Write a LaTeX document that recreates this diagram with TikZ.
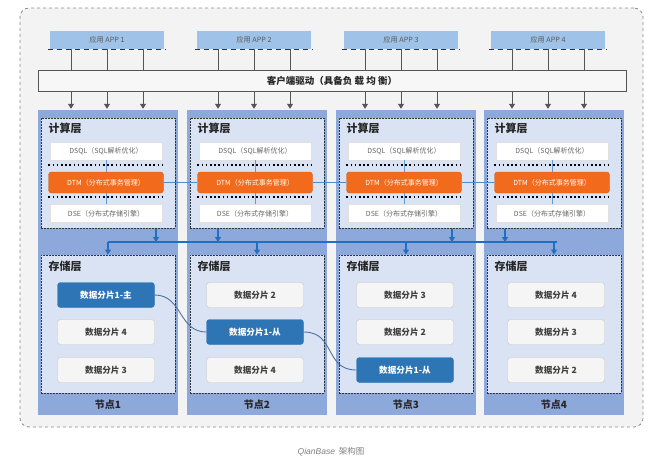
\documentclass[tikz,border=0pt]{standalone}
\usepackage{fontspec}
\setmainfont{Noto Sans CJK SC}
\newfontfamily\capfont{Liberation Sans}
\usetikzlibrary{arrows.meta,calc,shadows}
\definecolor{bgc}{HTML}{F3F3F3}
\definecolor{framec}{HTML}{8C8C8C}
\definecolor{appc}{HTML}{9FC3E8}
\definecolor{colc}{HTML}{8DA8DA}
\definecolor{innerc}{HTML}{DAE3F3}
\definecolor{dtmc}{HTML}{F26B1D}
\definecolor{shardb}{HTML}{2E75B6}
\definecolor{busc}{HTML}{1F70C1}
\definecolor{curvec}{HTML}{4F72A6}
\definecolor{arrc}{HTML}{555555}
\begin{document}
\begin{tikzpicture}[x=1pt,y=-1pt,
  outerframe/.style={draw=framec, dashed, line width=0.8pt, fill=bgc, rounded corners=9pt, inner sep=0pt},
  appbox/.style={fill=appc, minimum width=114pt, minimum height=18pt, inner sep=0pt, text=black!65, font=\fontsize{7.2}{8}\selectfont},
  appdash/.style={draw=black!80, line width=1pt, dash pattern=on 5pt off 4pt},
  driver/.style={draw=arrc, fill=white!97!black, line width=1pt, minimum width=588pt, minimum height=21pt, inner sep=0pt, font=\fontsize{9.5}{10}\selectfont\bfseries, text=black!85},
  gline/.style={draw=arrc, line width=1pt},
  garr/.style={draw=arrc, line width=1pt, -{Triangle[width=6pt,length=5pt]}},
  column/.style={fill=colc, minimum width=140pt, minimum height=305pt, inner sep=0pt},
  layerbox/.style={draw=black!80, fill=innerc, line width=1pt, dash pattern=on 2pt off 1pt, minimum width=134pt, inner sep=0pt},
  ltitle/.style={anchor=north west, inner sep=0pt, font=\fontsize{11}{12}\selectfont\bfseries, text=black!85},
  wbox/.style={fill=white, draw=black!12, minimum width=112pt, minimum height=18pt, inner sep=0pt, text=black!60, font=\fontsize{7}{8}\selectfont, drop shadow={shadow xshift=0.6pt, shadow yshift=-0.8pt, opacity=0.25}},
  dtmbox/.style={fill=dtmc, draw=dtmc!85!black, rounded corners=3pt, minimum width=115pt, minimum height=21pt, inner sep=0pt, text=white, font=\fontsize{7}{8}\selectfont},
  dotline/.style={draw=black, line width=1.6pt, dash pattern=on 1.6pt off 2.6pt},
  vfaint/.style={draw=busc!70, line width=0.8pt},
  hline/.style={draw=busc!80, line width=0.8pt},
  shard/.style={fill=white!96!black, draw=black!22, rounded corners=3pt, minimum width=97pt, minimum height=25pt, inner sep=0pt, text=black!75, font=\fontsize{8.6}{9}\selectfont\bfseries},
  shardm/.style={shard, fill=shardb, draw=shardb, text=white},
  barr/.style={draw=busc, line width=1.1pt, -{Triangle[width=6pt,length=5pt]}},
  bline/.style={draw=busc, line width=1.1pt},
  curvel/.style={draw=curvec, line width=0.9pt},
  nodelabel/.style={inner sep=0pt, font=\fontsize{10}{11}\selectfont\bfseries, text=black!85},
]
\useasboundingbox (0,0) rectangle (666,466);
\fill[white] (0,0) rectangle (666,466);
\node[outerframe, minimum width=623pt, minimum height=419pt] (frame) at (331.5,217.5) {};

% apps
\node[appbox] (app1) at (107,40) {应用 APP 1};
\node[appbox] (app2) at (254,40) {应用 APP 2};
\node[appbox] (app3) at (401,40) {应用 APP 3};
\node[appbox] (app4) at (548,40) {应用 APP 4};
\foreach \i in {1,2,3,4}{
  \draw[appdash] ([xshift=-2pt]app\i.south west) -- ([xshift=1pt]app\i.south east);
}

% driver
\node[driver] (drv) at (332,80.5) {客户端驱动（具备负 载 均 衡）};

% columns
\foreach \i/\cx in {1/108,2/257,3/406,4/554}{
  \node[column] (col\i) at (\cx,262.5) {};
  \node[layerbox, minimum height=110pt] (cmp\i) at (\cx,173) {};
  \node[ltitle] (ct\i) at ([shift={(8,5)}]cmp\i.north west) {计算层};
  \node[layerbox, minimum height=138pt] (sto\i) at (\cx,324) {};
  \node[ltitle] (st\i) at ([shift={(8,6)}]sto\i.north west) {存储层};
  \node[nodelabel] (nl\i) at (\cx,405) {节点\i};
}
\foreach \i in {1,2,3,4}{
  \foreach \o in {-36,0,36}{
    \draw[gline] ([xshift=\o pt]app\i.south) -- ([xshift=\o pt]app\i.south |- drv.north);
    \draw[garr] ([xshift=\o pt]app\i.south |- drv.south) -- ([xshift=\o pt, yshift=1pt]app\i.south |- col\i.north);
  }
}

% compute internals
\foreach \i/\cx in {1/108,2/257,3/406,4/554}{
  \node[wbox] (dsql\i) at (\cx-2,151) {DSQL（SQL解析优化）};
  \node[dtmbox] (dtm\i) at (\cx-2,182.5) {DTM（分布式事务管理）};
  \node[wbox] (dse\i) at (\cx-2,213.5) {DSE（分布式存储引擎）};
  \draw[dotline] ([shift={(0,-7)}]dtm\i.north west) -- ([shift={(0,-7)}]dtm\i.north east);
  \draw[dotline] ([shift={(0,4)}]dtm\i.south west) -- ([shift={(0,4)}]dtm\i.south east);
  \draw[vfaint] (dsql\i.south) -- (dtm\i.north);
  \draw[vfaint] (dtm\i.south) -- (dse\i.north);
}
\draw[hline] (dtm1.east) -- (dtm2.west);
\draw[hline] (dtm2.east) -- (dtm3.west);
\draw[hline] (dtm3.east) -- (dtm4.west);

% bus
\coordinate (bus) at (0,242);
\draw[bline] (sto1.north |- bus) -- ([xshift=3pt]sto4.north |- bus);
\draw[barr] ([xshift=48pt]cmp1.south) -- ([xshift=48pt]cmp1.south |- bus);
\draw[barr] ([xshift=-39pt]cmp2.south) -- ([xshift=-39pt]cmp2.south |- bus);
\draw[barr] ([xshift=46pt]cmp3.south) -- ([xshift=46pt]cmp3.south |- bus);
\draw[barr] ([xshift=-49pt]cmp4.south) -- ([xshift=-49pt]cmp4.south |- bus);
\foreach \i in {1,2,3,4}{
  \draw[barr] (sto\i.north |- bus) -- (sto\i.north);
}

% shards
\node[shardm] (s11) at (106,295) {数据分片1-主};
\node[shard] (s12) at (106,332) {数据分片 4};
\node[shard] (s13) at (106,370) {数据分片 3};
\node[shard] (s21) at (255,295) {数据分片 2};
\node[shardm] (s22) at (255,332) {数据分片1-从};
\node[shard] (s23) at (255,370) {数据分片 4};
\node[shard] (s31) at (405,295) {数据分片 3};
\node[shard] (s32) at (405,332) {数据分片 2};
\node[shardm] (s33) at (405,370) {数据分片1-从};
\node[shard] (s41) at (556,295) {数据分片 4};
\node[shard] (s42) at (556,332) {数据分片 3};
\node[shard] (s43) at (556,370) {数据分片 2};

\draw[curvel] (s11.east) .. controls +(28,0) and +(-28,0) .. (s22.west);
\draw[curvel] (s22.east) .. controls +(32,0) and +(-32,0) .. (s33.west);

% caption
\node[inner sep=0pt, text=black!50, font=\fontsize{8.5}{9}\selectfont] (cap) at (331,452) {{\capfont\itshape QianBase}\ \ 架构图};
\end{tikzpicture}
\end{document}
